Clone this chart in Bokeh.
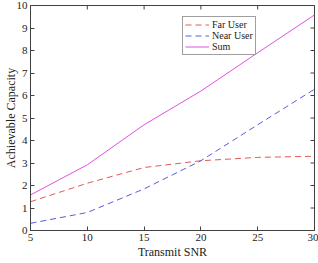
import math
from bokeh.plotting import figure
from bokeh.models import Range1d, Legend, LegendItem, FixedTicker
from bokeh.embed import file_html
from bokeh.resources import INLINE

snr = [5, 10, 15, 20, 25, 30]
far_user = [1.28, 2.1, 2.8, 3.1, 3.25, 3.3]
near_user = [0.32, 0.8, 1.85, 3.1, 4.7, 6.28]
sum_cap = [1.58, 2.92, 4.7, 6.2, 7.9, 9.58]

x_ticks = [5, 10, 15, 20, 25, 30]
y_ticks = list(range(0, 11))
x_min, x_max = 5, 30
y_min, y_max = 0, 10

FONT = "Liberation Serif"
AX = "#404040"

p = figure(width=318, height=263, output_backend="svg", toolbar_location=None,
           x_range=Range1d(x_min, x_max), y_range=Range1d(y_min, y_max),
           min_border_left=29, min_border_right=4, min_border_top=5, min_border_bottom=33)
p.xgrid.visible = False
p.ygrid.visible = False
p.outline_line_color = AX
p.outline_line_width = 1

r1 = p.line(snr, far_user, line_color="#e05a5a", line_width=1, line_dash="6 4")
r2 = p.line(snr, near_user, line_color="#5a5ae0", line_width=1, line_dash="6 4")
r3 = p.line(snr, sum_cap, line_color="#e050e0", line_width=1)

# inward tick marks on the top and right edges (clipped to the frame)
p.scatter([x_max] * len(y_ticks), y_ticks, marker="dash", size=8,
          line_color=AX, line_width=1)
p.scatter(x_ticks, [y_max] * len(x_ticks), marker="dash", size=8, angle=math.pi / 2,
          line_color=AX, line_width=1)

for ax in [p.xaxis[0], p.yaxis[0]]:
    ax.major_tick_in = 4
    ax.major_tick_out = 0
    ax.minor_tick_in = 0
    ax.minor_tick_out = 0
    ax.axis_line_color = AX
    ax.major_tick_line_color = AX
    ax.major_label_text_font = FONT
    ax.major_label_text_font_size = "11px"
    ax.major_label_text_color = "#222222"
    ax.axis_label_text_font = FONT
    ax.axis_label_text_font_size = "12px"
    ax.axis_label_text_font_style = "normal"
    ax.axis_label_text_color = "#222222"
    ax.axis_label_text_line_height = 0.9

p.xaxis[0].ticker = FixedTicker(ticks=x_ticks)
p.yaxis[0].ticker = FixedTicker(ticks=y_ticks)
p.xaxis[0].axis_label = "Transmit SNR"
p.yaxis[0].axis_label = "Achievable Capacity"
p.xaxis[0].major_label_standoff = 3
p.xaxis[0].axis_label_standoff = 1
p.yaxis[0].major_label_standoff = 3
p.yaxis[0].axis_label_standoff = -4

legend = Legend(items=[LegendItem(label="Far User", renderers=[r1]),
                       LegendItem(label="Near User", renderers=[r2]),
                       LegendItem(label="Sum", renderers=[r3])],
                location=(152, 175))
legend.label_text_font = FONT
legend.label_text_font_size = "10px"
legend.label_text_color = "#222222"
legend.glyph_width = 24
legend.glyph_height = 9
legend.label_height = 9
legend.spacing = 0
legend.padding = 2
legend.margin = 0
legend.label_standoff = 3
legend.border_line_color = AX
legend.border_line_width = 1
legend.background_fill_alpha = 1
p.add_layout(legend, "center")

open("out.html", "w").write(file_html(p, INLINE))
